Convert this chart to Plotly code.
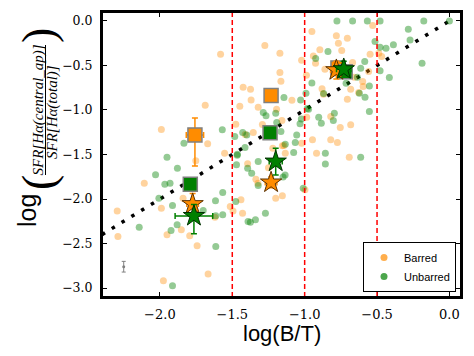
import plotly.graph_objects as go

# scattered galaxies
barred_x = [-1.99, -1.581, -1.687, -1.67, -1.275, -1.171, -1.171, -1.164, -1.425, -1.374,
            -1.37, -1.448, -1.321, -1.476, -1.157, -1.088, -1.355, -1.22, -1.143, -1.021,
            -0.95, -0.94, -0.925, -0.895, -0.86, -0.781, -0.767, -0.744, -0.705, -0.669,
            -0.88, -0.87, -0.986, -0.82, -0.754, -0.682, -0.946, -0.82, -0.774, -0.705,
            -0.682, -0.657, -0.599, -0.627, -0.596, -0.558, -0.548, -0.53, -0.488, -0.468,
            -0.988, -1.292, -1.194, -1.411, -1.553,
            -2.295, -2.29, -2.108, -1.99, -1.951, -1.852, -1.84, -1.794, -1.743, -1.62,
            -1.667, -1.976, -1.514, -1.495, -1.44, -1.429, -1.394, -1.337, -1.323, -1.2,
            -1.154, -1.134, -1.154, -1.021, -0.998, -0.918, -0.692, -1.752, -1.25]
barred_y = [-1.22, -0.374, -0.946, -1.38, -0.277, -0.363, -0.58, -0.677, -0.744, -0.767,
            -0.887, -0.958, -0.969, -1.16, -1.119, -0.89, -1.253, -1.43, -1.40, -0.441,
            -0.12, -0.393, -0.475, -0.325, -0.542, -0.168, -0.25, -0.333, -0.194, -0.468,
            -0.763, -0.823, -1.081, -1.074, -1.197, -1.167, -1.335, -1.335, -1.365, -0.879,
            -0.767, -0.632, -0.681, -0.805, -0.737, -0.569, -0.374, -0.052, -0.363, -0.40,
            -0.609, -1.164, -0.991, -1.276, -1.485,
            -2.133, -2.421, -1.822, -2.103, -2.402, -2.346, -1.99, -2.413, -2.525, -2.204,
            -2.843, -2.918, -2.084, -2.133, -2.009, -2.159, -1.605, -1.777, -1.822, -1.99,
            -1.964, -1.485, -1.403, -1.373, -1.897, -1.485, -1.53, -1.571, -1.65]

unbarred_x = [-1.834, -1.569, -1.483, -1.428, -1.40, -1.412, -1.465, -1.286, -1.267, -1.20,
              -1.193, -1.143, -1.164, -1.134, -1.055, -1.028, -1.032, -1.023, -1.065, -0.991,
              -0.982, -0.95, -0.903, -0.885, -0.839, -0.795, -0.802, -0.777, -0.669, -0.567,
              -0.479, -0.514, -0.479, -0.438, -0.387, -0.284, -0.272, -0.177, 0.0, -0.189,
              -0.415, -0.479, -0.553, -0.585, -0.613, -0.622, -0.583, -0.553, -0.636, -0.714,
              -0.924, -0.973, -0.869,
              -2.143, -2.03, -2.007, -1.966, -1.951, -1.93, -1.923, -1.881, -1.879, -1.913,
              -1.913, -1.701, -1.616, -1.614, -1.614, -1.566, -1.566, -1.466, -1.476, -1.394,
              -1.366, -1.321, -1.321, -1.391, -1.375, -1.34, -1.271, -1.149, -1.135, -1.076,
              -1.01, -0.857, -0.857, -0.613, -1.471]
unbarred_y = [-1.373, -1.223, -1.298, -1.253, -1.28, -1.422, -1.496, -1.029, -1.066, -1.036,
              -1.141, -0.86, -1.242, -1.384, -1.28, -0.887, -1.156, -1.10, -1.365, -0.812,
              -0.984, -0.696, -1.081, -1.148, -0.344, -1.036, -1.119, 0.0, 0.0, 0.0,
              0.0, -0.232, -0.295, -0.307, -0.269, -0.093, -0.213, 0.0, 0.0, -0.475,
              -0.636, -0.561, -0.73, -0.456, -0.531, -0.812, -0.857, -1.018, -0.632, -0.70,
              -0.423, -0.991, -0.816,
              -2.316, -1.728, -1.99, -1.833, -1.53, -1.822, -2.353, -2.29, -1.653, -2.974,
              -2.073, -2.129, -2.02, -2.189, -2.533, -2.177, -1.927, -1.508, -2.028, -1.653,
              -1.71, -1.579, -1.848, -2.252, -2.26, -2.233, -2.159, -1.754, -1.73, -1.478,
              -1.878, -1.485, -1.608, -1.53, -1.616]

# binned means (squares) and medians (stars)
bar_sq_x = [-1.758, -1.232, -0.77]
bar_sq_y = [-1.28, -0.838, -0.53]
bar_sq_ex = [0.06, 0.03, 0.03]
bar_sq_eyp = [0.19, 0.04, 0.05]
bar_sq_eym = [0.35, 0.04, 0.05]

unb_sq_x = [-1.79, -1.239, -0.72]
unb_sq_y = [-1.833, -1.255, -0.572]
unb_sq_ex = [0.03, 0.02, 0.02]
unb_sq_ey = [0.05, 0.04, 0.05]

bar_st_x = [-1.774, -1.232, -0.781]
bar_st_y = [-2.057, -1.814, -0.553]
bar_st_ex = [0.04, 0.04, 0.04]
bar_st_ey = [0.12, 0.06, 0.1]

unb_st_x = [-1.765, -1.2, -0.73]
unb_st_y = [-2.19, -1.579, -0.542]
unb_st_ex = [0.13, 0.045, 0.05]
unb_st_eyp = [0.13, 0.15, 0.09]
unb_st_eym = [0.2, 0.15, 0.09]

one_to_one = [-2.4, 0.0]
bin_edges = [-1.5, -1.0, -0.5]
typical_err_x = [-2.25]
typical_err_y = [-2.76]
typical_err = [0.06]

ORANGE = "#FF8C00"
GREEN = "#008000"

fig = go.Figure()

fig.add_trace(go.Scatter(x=one_to_one, y=one_to_one, mode="lines", showlegend=False,
                         line=dict(color="black", width=3.5, dash="3.5px,8px")))

fig.add_trace(go.Scatter(x=barred_x, y=barred_y, mode="markers", showlegend=False,
                         marker=dict(color=ORANGE, size=7, opacity=0.38, line_width=0)))
fig.add_trace(go.Scatter(x=unbarred_x, y=unbarred_y, mode="markers", showlegend=False,
                         marker=dict(color=GREEN, size=7, opacity=0.42, line_width=0)))

fig.add_trace(go.Scatter(
    x=bar_sq_x, y=bar_sq_y, mode="markers", showlegend=False,
    marker=dict(symbol="square", color=ORANGE, size=14, line=dict(color="#808080", width=1.5)),
    error_x=dict(array=bar_sq_ex, color=ORANGE, thickness=1.5, width=3),
    error_y=dict(array=bar_sq_eyp, arrayminus=bar_sq_eym, color=ORANGE, thickness=1.5, width=3)))
fig.add_trace(go.Scatter(
    x=unb_sq_x, y=unb_sq_y, mode="markers", showlegend=False,
    marker=dict(symbol="square", color=GREEN, size=14, line=dict(color="#808080", width=1.5)),
    error_x=dict(array=unb_sq_ex, color=GREEN, thickness=1.5, width=3),
    error_y=dict(array=unb_sq_ey, color=GREEN, thickness=1.5, width=3)))
fig.add_trace(go.Scatter(
    x=bar_st_x, y=bar_st_y, mode="markers", showlegend=False,
    marker=dict(symbol="star", color=ORANGE, size=16, line=dict(color="#5a3000", width=1)),
    error_x=dict(array=bar_st_ex, color=ORANGE, thickness=1.5, width=3),
    error_y=dict(array=bar_st_ey, color=ORANGE, thickness=1.5, width=3)))
fig.add_trace(go.Scatter(
    x=unb_st_x, y=unb_st_y, mode="markers", showlegend=False,
    marker=dict(symbol="star", color=GREEN, size=16, line=dict(color="#003000", width=1)),
    error_x=dict(array=unb_st_ex, color=GREEN, thickness=1.5, width=3),
    error_y=dict(array=unb_st_eyp, arrayminus=unb_st_eym, color=GREEN, thickness=1.5, width=3)))

fig.add_trace(go.Scatter(
    x=typical_err_x, y=typical_err_y, mode="markers", showlegend=False,
    marker=dict(color="#808080", size=3),
    error_y=dict(array=typical_err, color="#808080", thickness=1, width=2)))

# legend entries
fig.add_trace(go.Scatter(x=[None], y=[None], mode="markers", name="Barred",
                         marker=dict(color=ORANGE, size=7, opacity=0.7)))
fig.add_trace(go.Scatter(x=[None], y=[None], mode="markers", name="Unbarred",
                         marker=dict(color=GREEN, size=7, opacity=0.7)))

for xb in bin_edges:
    fig.add_vline(x=xb, line=dict(color="red", width=1.5, dash="5px,3px"))

# the page body has an 8px margin, so the figure is shrunk by that much
OFF = 8
L, R, T, B = 94, 5, 4, 51
W, H = 458, 340
pw, ph = W - L - R, H - T - B


def px(x):
    # page pixel -> paper coordinate
    return (x - OFF - L) / pw


def py(y):
    return (H - B - (y - OFF)) / ph


# frame round the plot area
fig.add_shape(type="rect", xref="paper", yref="paper", x0=0, x1=1, y0=0, y1=1,
              line=dict(color="black", width=2), layer="above")

# y label built by hand: log( num / den )
ann = [
    dict(text="log", x=px(27), y=py(211), font=dict(family="Liberation Sans", size=25, color="black")),
    dict(text="(", x=px(38), y=py(183), font=dict(family="Liberation Serif", size=46, color="black")),
    dict(text="<i>SFR[Hα(central_ap)]</i>", x=px(38.5), y=py(110),
         font=dict(family="Liberation Serif", size=15, color="black")),
    dict(text="<i>SFR[Hα(total)]</i>", x=px(52), y=py(112),
         font=dict(family="Liberation Serif", size=15, color="black")),
    dict(text=")", x=px(38), y=py(36), font=dict(family="Liberation Serif", size=46, color="black")),
]
for a in ann:
    fig.add_annotation(xref="paper", yref="paper", showarrow=False, textangle=-90,
                       xanchor="center", yanchor="middle", bgcolor="rgba(0,0,0,0)",
                       borderpad=0, **a)
fig.add_shape(type="line", xref="paper", yref="paper", x0=px(45.5), x1=px(45.5),
              y0=py(45), y1=py(175), line=dict(color="black", width=1))

fig.add_annotation(text="log(B/T)", xref="paper", yref="paper", x=0.5, y=py(333),
                   showarrow=False, xanchor="center", yanchor="middle",
                   font=dict(family="Liberation Sans", size=22, color="black"))

axis = dict(showline=True, linecolor="black", linewidth=2, mirror="ticks",
            ticks="inside", ticklen=5, tickcolor="black", tickwidth=1,
            showgrid=False, zeroline=False, tickformat=".1f", automargin=False,
            ticklabeloverflow="allow",
            tickfont=dict(family="DejaVu Serif", size=13, color="black"))

fig.update_layout(
    template="none",
    width=W, height=H,
    margin=dict(l=L, r=R, t=T, b=B, autoexpand=False),
    paper_bgcolor="white", plot_bgcolor="white",
    xaxis=dict(range=[-2.4, 0.08], dtick=0.5, tick0=0, ticklabelstandoff=4, **axis),
    yaxis=dict(range=[-3.1, 0.1], dtick=0.5, tick0=0, ticklabelstandoff=5,
               **{**axis, "tickfont": dict(family="DejaVu Serif", size=12.5, color="black")}),
    legend=dict(x=px(456), y=py(292), xanchor="right", yanchor="bottom",
                bgcolor="white", bordercolor="black", borderwidth=1,
                font=dict(family="Liberation Sans", size=11, color="black"),
                tracegroupgap=0),
    showlegend=True,
)

fig.write_html("out.html")
